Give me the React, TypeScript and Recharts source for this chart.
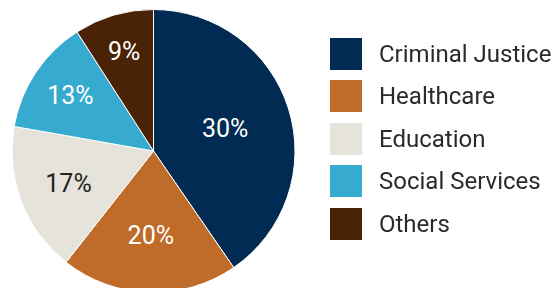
import { PieChart, Pie, Cell, Legend } from 'recharts'

const categories = ['Criminal Justice', 'Healthcare', 'Education', 'Social Services', 'Others']
// slice sizes as drawn (the printed labels don't add up to 100)
const shares = [40, 20, 17, 13, 9]
const labels = ['30%', '20%', '17%', '13%', '9%']
const colors = ['#022B54', '#BF6B29', '#E5E3DA', '#37AAD0', '#4A2206']
const labelColors = ['#FFFFFF', '#FFFFFF', '#222222', '#FFFFFF', '#FFFFFF']
// how far out each label sits, as a fraction of the radius
const labelRadius = [0.53, 0.6, 0.643, 0.705, 0.735]

const rows = categories.map((name, i) => ({ name, value: shares[i], label: labels[i] }))

const RAD = Math.PI / 180

function renderLabel(props: any) {
  const { cx, cy, midAngle, outerRadius, index } = props
  const d = outerRadius * labelRadius[index]
  const x = cx + d * Math.cos(-midAngle * RAD)
  const y = cy + d * Math.sin(-midAngle * RAD)
  return (
    <text
      x={x}
      y={y}
      fill={labelColors[index]}
      textAnchor="middle"
      dominantBaseline="central"
      fontSize={25}
      fontFamily="Roboto"
    >
      {labels[index]}
    </text>
  )
}

function renderLegend() {
  return (
    <div style={{ fontFamily: 'Roboto', fontSize: 24, color: '#2a2a2a' }}>
      {categories.map((name, i) => (
        <div key={name} style={{ display: 'flex', alignItems: 'center', height: 32, marginBottom: 10.4 }}>
          <div style={{ width: 32, height: 32, background: colors[i], marginRight: 17 }} />
          <span style={{ lineHeight: '32px' }}>{name}</span>
        </div>
      ))}
    </div>
  )
}

export default function App() {
  return (
    <div style={{ position: 'fixed', left: 0, top: 0, width: 555, height: 288, background: '#fff' }}>
      <PieChart width={555} height={288} margin={{ top: 0, right: 0, bottom: 0, left: 0 }}>
        <Pie
          data={rows}
          dataKey="value"
          nameKey="name"
          cx={153.5}
          cy={151}
          outerRadius={141.5}
          startAngle={90}
          endAngle={-270}
          stroke="#fff"
          strokeWidth={1}
          label={renderLabel}
          labelLine={false}
          isAnimationActive={false}
        >
          {rows.map((r, i) => (
            <Cell key={r.name} fill={colors[i]} />
          ))}
        </Pie>
        <Legend
          content={renderLegend}
          wrapperStyle={{ position: 'absolute', left: 330, top: 38, width: 230 }}
        />
      </PieChart>
    </div>
  )
}
